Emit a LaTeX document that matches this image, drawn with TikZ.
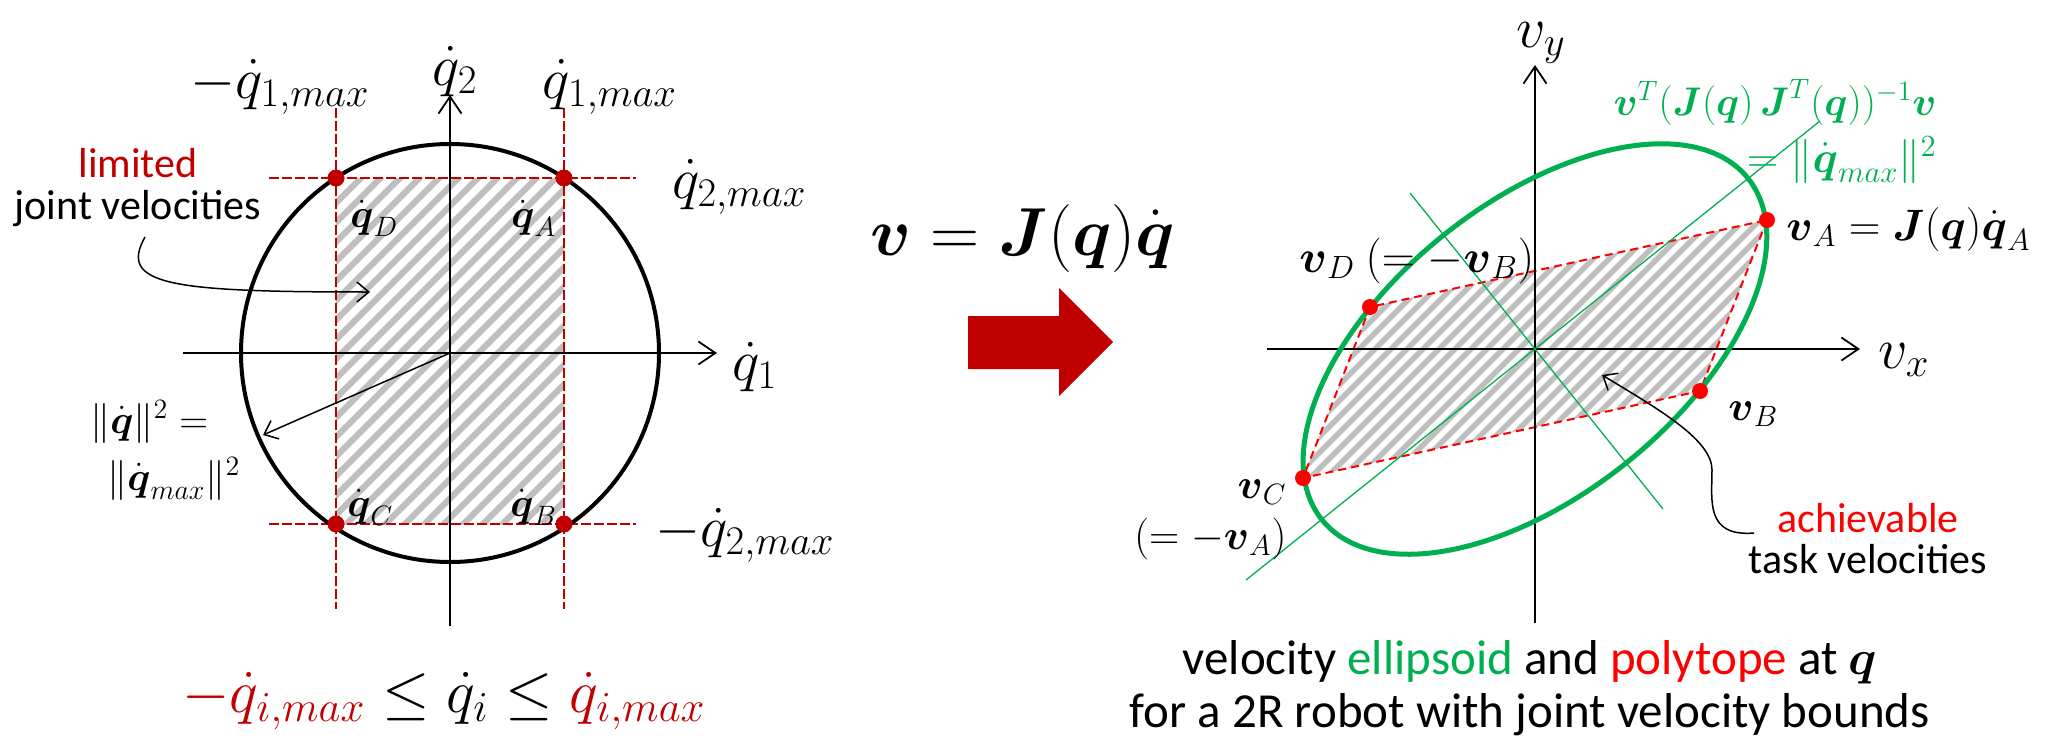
\RequirePackage{fix-cm}
\documentclass[tikz,border=0pt]{standalone}
\usepackage{amsmath}
\usepackage[no-math]{fontspec}
\setmainfont{Carlito}
\usetikzlibrary{arrows.meta}
\definecolor{dred}{RGB}{192,0,0}
\definecolor{bred}{RGB}{255,0,0}
\definecolor{pgreen}{RGB}{0,176,80}
\definecolor{hatchgray}{RGB}{191,191,191}
\newcommand\txtsz{\fontsize{21}{21}\selectfont}
\newcommand\capsz{\fontsize{24.5}{26.5}\selectfont}
\newcommand\msz{\fontsize{29}{29}\selectfont}
\newcommand\lsz{\fontsize{20}{20}\selectfont}
\newcommand\myv{\boldsymbol{v}}
\newcommand\myq{\boldsymbol{q}}
\newcommand\myJ{\boldsymbol{J}}
\newcommand\myqd{\dot{\boldsymbol{q}}}
\begin{document}
\begin{tikzpicture}[x=0.5pt,y=-0.5pt,
  axisline/.style={line width=0.9pt,-{Straight Barb[length=8.5pt,width=11.5pt]}},
  thinarrow/.style={line width=0.75pt,-{Straight Barb[length=6pt,width=10pt]}},
  hatchL/.style={hatchgray,line width=3.1pt},
  hatchR/.style={hatchgray,line width=2.7pt},
  ldash/.style={dred,line width=0.8pt,dash pattern=on 5pt off 1.5pt},
  rdash/.style={bred,line width=1pt,dash pattern=on 4pt off 2.5pt},
  gline/.style={pgreen,line width=0.65pt},
  lbl/.style={inner sep=0pt,anchor=base},
  lblw/.style={inner sep=0pt,anchor=base west},
  lble/.style={inner sep=0pt,anchor=base east}]
\useasboundingbox (0,0) rectangle (2047,739);

% ---------------- left panel ----------------
\coordinate (O1) at (450,353);
\coordinate (QA) at (564,178);
\coordinate (QB) at (564,524);
\coordinate (QC) at (336,524);
\coordinate (QD) at (336,178);
\begin{scope}
  \clip (QD) rectangle (QB);
  \foreach \c in {500,519.5,...,1110} \draw[hatchL] (\c,0) -- ++(-700,700);
\end{scope}
\coordinate (V1t) at (336,108); \coordinate (V1b) at (336,609);
\coordinate (V2t) at (564,108); \coordinate (V2b) at (564,609);
\coordinate (H1l) at (269,178); \coordinate (H1r) at (636,178);
\coordinate (H2l) at (269,524); \coordinate (H2r) at (636,524);
\draw[ldash] (V1t) -- (V1b);
\draw[ldash] (V2t) -- (V2b);
\draw[ldash] (H1l) -- (H1r);
\draw[ldash] (H2l) -- (H2r);
\coordinate (X1l) at (183,353); \coordinate (X1r) at (717,353);
\coordinate (Y1b) at (450,626); \coordinate (Y1t) at (450,95);
\draw[axisline] (X1l) -- (X1r);
\draw[axisline] (Y1b) -- (Y1t);
\draw[line width=2pt] (O1) circle (209);
\foreach \p in {QA,QB,QC,QD} \fill[dred] (\p) circle (8.5);

\node[lbl] (lq1m) at (280,98) {\msz$-\dot{q}_{1,max}$};
\node[lbl] (lq2) at (455,85) {\msz$\dot{q}_{2}$};
\node[lbl] (lq1p) at (610,98) {\msz$\dot{q}_{1,max}$};
\node[lblw] (lq2p) at (672,198) {\msz$\dot{q}_{2,max}$};
\node[lblw] (lq2m) at (655,546) {\msz$-\dot{q}_{2,max}$};
\node[lblw] (lq1) at (732,380) {\msz$\dot{q}_{1}$};
\node[lblw] (lqD) at (350,227) {\lsz$\myqd_D$};
\node[lblw] (lqA) at (511,227) {\lsz$\myqd_A$};
\node[lblw] (lqC) at (347,516) {\lsz$\myqd_C$};
\node[lblw] (lqB) at (510,516) {\lsz$\myqd_B$};

\node[lbl,text=dred] (lim1) at (138,177) {\txtsz limited};
\node[lbl] (lim2) at (138,219) {\txtsz joint velocities};
\coordinate (ja) at (145,237);
\coordinate (jb) at (370,292);
\draw[thinarrow] (ja) .. controls (118,285) and (170,292) .. (jb);

\coordinate (rq) at (263,435);
\draw[thinarrow] (O1) -- (rq);
\node[lblw] (nrm) at (90,433) {\fontsize{20}{28.5}\selectfont\begin{tabular}[t]{@{}l@{}}$\|\myqd\|^2=$\\\hspace{8.5pt}$\|\myqd_{max}\|^2$\end{tabular}};

\node[lbl] (bound) at (444,712) {\fontsize{30.5}{30.5}\selectfont${\color{dred}-\dot{q}_{i,max}}\le\dot{q}_i\le{\color{dred}\dot{q}_{i,max}}$};

% ---------------- middle ----------------
\node[lbl] (jac) at (1023,255) {\fontsize{34}{34}\selectfont$\myv=\myJ(\myq)\myqd$};
\fill[dred] (968,316) -- (1059,316) -- (1059,288) -- (1113,342) -- (1059,396) -- (1059,369) -- (968,369) -- cycle;

% ---------------- right panel ----------------
\coordinate (O2) at (1535,349);
\coordinate (VA) at (1767,220);
\coordinate (VB) at (1700,391);
\coordinate (VC) at (1303,478);
\coordinate (VD) at (1370,307);
\begin{scope}
  \clip (VA) -- (VB) -- (VC) -- (VD) -- cycle;
  \foreach \c in {1660,1676,...,2110} \draw[hatchR] (\c,0) -- ++(-700,700);
\end{scope}
\draw[rdash] (VA) -- (VB) -- (VC) -- (VD) -- cycle;
\coordinate (X2l) at (1267,349); \coordinate (X2r) at (1860,349);
\coordinate (Y2b) at (1535,623); \coordinate (Y2t) at (1535,65);
\draw[axisline] (X2l) -- (X2r);
\draw[axisline] (Y2b) -- (Y2t);
\coordinate (M1) at (1246,580); \coordinate (M2) at (1820,121);
\coordinate (m1) at (1410,193); \coordinate (m2) at (1663,509);
\draw[gline] (M1) -- (M2);
\draw[gline] (m1) -- (m2);
\draw[pgreen,line width=2.5pt,rotate around={38.7:(O2)}] (O2) ellipse [x radius=273, y radius=146];
\foreach \p in {VA,VB,VC,VD} \fill[bred] (\p) circle (8);

\node[lblw] (lvx) at (1878,368) {\msz$v_x$};
\node[lblw] (lvy) at (1516,47) {\msz$v_y$};
\node[lble,text=pgreen] (ell) at (1937,115) {\fontsize{20}{28.5}\selectfont\begin{tabular}[t]{@{}r@{}}$\myv^T(\myJ(\myq)\,\myJ^T(\myq))^{-1}\myv$\\{\fontsize{22}{28.5}\selectfont$=\|\myqd_{max}\|^2$}\end{tabular}};
\node[lblw] (lvA) at (1786,240) {\fontsize{22}{22}\selectfont$\myv_A=\myJ(\myq)\myqd_A$};
\node[lblw] (lvD) at (1299,272) {\fontsize{23}{23}\selectfont$\myv_D\ (=-\myv_B)$};
\node[lblw] (lvB) at (1728,420) {\txtsz$\myv_B$};
\node[lble] (lvC) at (1287,498) {\fontsize{21}{25.5}\selectfont\begin{tabular}[t]{@{}r@{}}$\myv_C$\hspace{1pt}\\$(=-\myv_A)$\end{tabular}};

\node[lbl,text=bred] (ach1) at (1868,532) {\txtsz achievable};
\node[lbl] (ach2) at (1868,573) {\txtsz task velocities};
\coordinate (ta) at (1754,533);
\coordinate (tb) at (1602,375);
\draw[thinarrow] (ta) .. controls (1705,537) and (1712,500) .. (1712,470) .. controls (1712,440) and (1660,410) .. (tb);

\node[lbl] (cap1) at (1530,674) {\capsz velocity {\color{pgreen}ellipsoid} and {\color{bred}polytope} at $\myq$};
\node[lbl] (cap2) at (1530,727) {\capsz for a 2R robot with joint velocity bounds};
\end{tikzpicture}
\end{document}
